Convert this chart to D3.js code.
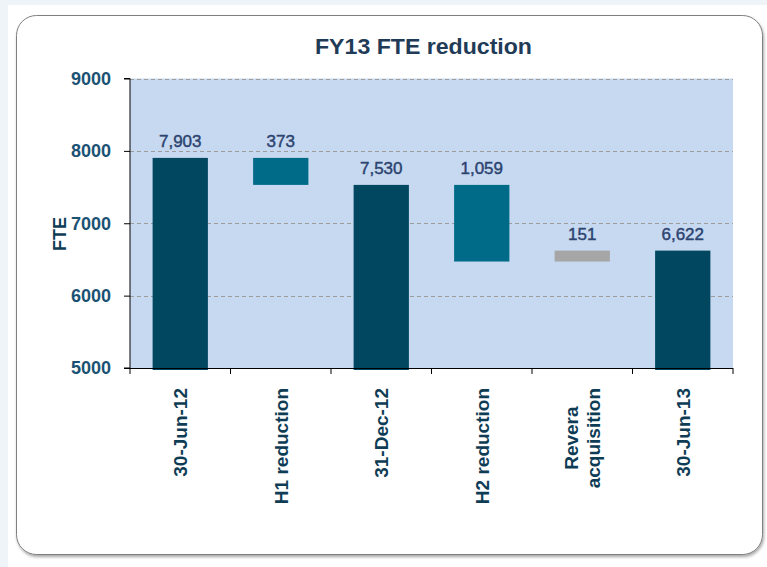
<!DOCTYPE html>
<html><head><meta charset="utf-8">
<script src="https://cdn.jsdelivr.net/npm/d3@7/dist/d3.min.js"></script>
<style>
html,body{margin:0;padding:0;background:#fff;}
svg{display:block;}
text{font-family:"Liberation Sans",Arial,sans-serif;}
</style></head>
<body>
<script>
const categories = ["30-Jun-12", "H1 reduction", "31-Dec-12", "H2 reduction", "Revera acquisition", "30-Jun-13"];
const barBase = [5000, 7530, 5000, 6471, 6471, 5000];
const barTop  = [7903, 7903, 7530, 7530, 6622, 6622];
const labels  = ["7,903", "373", "7,530", "1,059", "151", "6,622"];
const kinds   = ["total", "change", "total", "change", "other", "total"];
const yTicks  = [5000, 6000, 7000, 8000, 9000];

(function () {
const W = 767, H = 567;
const svg = d3.select("body").append("svg").attr("width", W).attr("height", H);

svg.append("rect").attr("width", W).attr("height", H).attr("fill", "#ffffff");
svg.append("rect").attr("x", 0).attr("y", 0).attr("width", W).attr("height", 5).attr("fill", "#eef4f8");
svg.append("rect").attr("x", 0).attr("y", 0).attr("width", 8).attr("height", H).attr("fill", "#eef4f8");
const defs = svg.append("defs");
const f = defs.append("filter").attr("id", "sh").attr("x", "-5%").attr("y", "-5%").attr("width", "110%").attr("height", "110%");
f.append("feDropShadow").attr("dx", 1).attr("dy", 2).attr("stdDeviation", 1.5).attr("flood-color", "#000").attr("flood-opacity", 0.35);
svg.append("rect").attr("x", 16.5).attr("y", 15.5).attr("width", 746).attr("height", 539).attr("rx", 20)
  .attr("fill", "#fff").attr("stroke", "#7f7f7f").attr("stroke-width", 1).attr("filter", "url(#sh)");

const pl = 130, pr = 733, pt = 78.5, pb = 368;
const x = d3.scaleBand().domain(categories).range([pl, pr]).paddingInner(0.45).paddingOuter(0.225);
const y = d3.scaleLinear().domain([5000, 9000]).range([pb, pt]);

svg.append("rect").attr("x", pl).attr("y", pt).attr("width", pr - pl).attr("height", pb - pt).attr("fill", "#c6d9f0");

svg.append("g").selectAll("line").data(yTicks.filter(d => d > 5000)).join("line")
  .attr("x1", pl).attr("x2", pr).attr("y1", d => Math.round(y(d)) + 0.5).attr("y2", d => Math.round(y(d)) + 0.5)
  .attr("stroke", "#9c9c9c").attr("stroke-width", 1).attr("stroke-dasharray", "4,3");

const colors = {total: "#00475f", change: "#006b88", other: "#a6a6a6"};
svg.append("g").selectAll("rect").data(categories).join("rect")
  .attr("x", d => x(d))
  .attr("width", x.bandwidth())
  .attr("y", (d, i) => y(barTop[i]))
  .attr("height", (d, i) => y(barBase[i]) - y(barTop[i]) + (kinds[i] === "total" ? 2 : 0))
  .attr("fill", (d, i) => colors[kinds[i]]);

svg.append("g").selectAll("text").data(categories).join("text")
  .attr("x", d => x(d) + x.bandwidth() / 2)
  .attr("y", (d, i) => y(barTop[i]) - 11)
  .attr("text-anchor", "middle").attr("font-size", 17)
  .attr("fill", "#2d4470").attr("stroke", "#2d4470").attr("stroke-width", 0.45)
  .text((d, i) => labels[i]);

const yAxis = d3.axisLeft(y).tickValues(yTicks).tickSize(6).tickFormat(d3.format("d"));
const ya = svg.append("g").attr("transform", `translate(${pl},0)`).call(yAxis);
ya.select(".domain").attr("stroke", "#000").attr("d", `M-6,${pt}H0V${pb}H-6`);
ya.selectAll(".tick line").attr("stroke", "#000");
ya.selectAll(".tick text").attr("font-size", 18).attr("font-weight", "bold").attr("fill", "#1b5274")
  .attr("font-family", "Liberation Sans, Arial, sans-serif").attr("x", -19);

const xa = svg.append("g");
xa.append("line").attr("x1", pl).attr("x2", pr).attr("y1", pb + 0.5).attr("y2", pb + 0.5).attr("stroke", "#000");
const step = x.step();
xa.selectAll("line.t").data(d3.range(categories.length + 1)).join("line").attr("class", "t")
  .attr("x1", i => pl + i * step).attr("x2", i => pl + i * step)
  .attr("y1", pb).attr("y2", pb + 6).attr("stroke", "#000");

// category labels, rotated, top-anchored at y=388, multi-line centred
const labelTop = 388, fs = 19, lineH = 22;
const cl = svg.append("g").selectAll("text").data(categories).join("text")
  .attr("font-size", fs).attr("font-weight", "bold").attr("fill", "#0f3c55");
cl.each(function (d) {
  const t = d3.select(this);
  const parts = d === "Revera acquisition" ? ["Revera", "acquisition"] : [d];
  const n = parts.length;
  const spans = parts.map((p, k) => t.append("tspan").attr("x", 0)
    .attr("y", (k - (n - 1) / 2) * lineH + fs * 0.36).text(p));
  let maxLen = 0;
  spans.forEach(s => { maxLen = Math.max(maxLen, s.node().getComputedTextLength()); });
  t.attr("text-anchor", "middle")
   .attr("transform", `translate(${x(d) + x.bandwidth() / 2},${labelTop + maxLen / 2}) rotate(-90)`);
});

svg.append("text").attr("transform", "translate(66,234) rotate(-90)").attr("text-anchor", "middle")
  .attr("font-size", 18).attr("font-weight", "bold").attr("fill", "#0f3c55").text("FTE");

svg.append("text").attr("x", 423.5).attr("y", 54).attr("text-anchor", "middle")
  .attr("font-size", 22).attr("font-weight", "bold").attr("fill", "#1f3b57")
  .attr("textLength", 217).attr("lengthAdjust", "spacingAndGlyphs")
  .text("FY13 FTE reduction");
})();
</script>
</body></html>
